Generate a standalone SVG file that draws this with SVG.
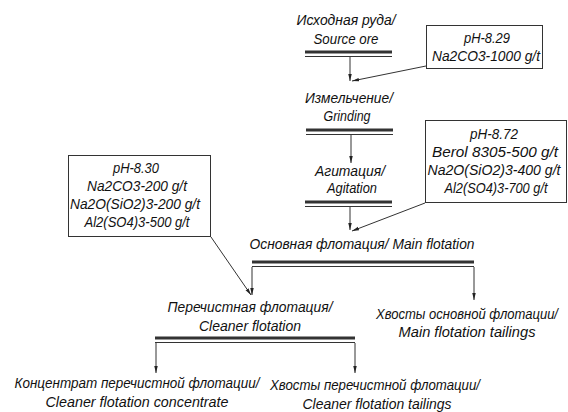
<svg xmlns="http://www.w3.org/2000/svg" width="568" height="412" viewBox="0 0 568 412">
<style>
text{font-family:"Liberation Sans",Arial,sans-serif;font-style:italic;font-size:15px;fill:#111;text-anchor:middle}
.box{fill:#fff;stroke:#333;stroke-width:1}
.bt{stroke:#333;stroke-width:3}
.bn{stroke:#333;stroke-width:1}
.c{stroke:#333;stroke-width:1;fill:none}
</style>
<defs>
<marker id="a" viewBox="0 0 10 10" refX="10" refY="5" markerWidth="7" markerHeight="7" markerUnits="userSpaceOnUse" orient="auto">
<path d="M0,2.5 L10,5 L0,7.5 Z" fill="#222"/>
</marker>
</defs>
<rect width="568" height="412" fill="#fff"/>
<g id="connectors">
<line class="c" x1="350" y1="56" x2="350" y2="81" marker-end="url(#a)"/>
<line class="c" x1="426" y1="66" x2="352" y2="81" marker-end="url(#a)"/>
<line class="c" x1="351" y1="134" x2="351" y2="163" marker-end="url(#a)"/>
<line class="c" x1="350" y1="207" x2="350" y2="230" marker-end="url(#a)"/>
<line class="c" x1="425" y1="203" x2="352" y2="231" marker-end="url(#a)"/>
<line class="c" x1="252" y1="267" x2="252" y2="295" marker-end="url(#a)"/>
<line class="c" x1="211" y1="237" x2="251" y2="295" marker-end="url(#a)"/>
<line class="c" x1="474" y1="267" x2="474" y2="300" marker-end="url(#a)"/>
<line class="c" x1="156" y1="343" x2="156" y2="373" marker-end="url(#a)"/>
<line class="c" x1="355" y1="343" x2="355" y2="373" marker-end="url(#a)"/>
</g>
<g id="source-ore">
<text x="346" y="25" textLength="99" lengthAdjust="spacingAndGlyphs">Исходная руда/</text>
<text x="346" y="44" textLength="65" lengthAdjust="spacingAndGlyphs">Source ore</text>
<line class="bt" x1="305" y1="52" x2="392" y2="52"/>
<line class="bn" x1="305" y1="56.5" x2="392" y2="56.5"/>
</g>
<g id="reagents-1">
<rect class="box" x="426.5" y="25.5" width="116" height="43"/>
<text x="487" y="43" textLength="46" lengthAdjust="spacingAndGlyphs">pH-8.29</text>
<text x="486" y="61" textLength="108" lengthAdjust="spacingAndGlyphs">Na2CO3-1000 g/t</text>
</g>
<g id="grinding">
<text x="349" y="103" textLength="88" lengthAdjust="spacingAndGlyphs">Измельчение/</text>
<text x="347" y="121" textLength="47" lengthAdjust="spacingAndGlyphs">Grinding</text>
<line class="bt" x1="306" y1="130" x2="393" y2="130"/>
<line class="bn" x1="306" y1="134.5" x2="393" y2="134.5"/>
</g>
<g id="agitation">
<text x="350" y="176" textLength="70" lengthAdjust="spacingAndGlyphs">Агитация/</text>
<text x="352" y="193" textLength="50" lengthAdjust="spacingAndGlyphs">Agitation</text>
<line class="bt" x1="305" y1="202" x2="392" y2="202"/>
<line class="bn" x1="305" y1="206.5" x2="392" y2="206.5"/>
</g>
<g id="reagents-2">
<rect class="box" x="425.5" y="120.5" width="141" height="82"/>
<text x="494" y="139" textLength="48" lengthAdjust="spacingAndGlyphs">pH-8.72</text>
<text x="495" y="157" textLength="126" lengthAdjust="spacingAndGlyphs">Berol 8305-500 g/t</text>
<text x="494" y="175" textLength="133" lengthAdjust="spacingAndGlyphs">Na2O(SiO2)3-400 g/t</text>
<text x="496" y="193" textLength="103" lengthAdjust="spacingAndGlyphs">Al2(SO4)3-700 g/t</text>
</g>
<g id="reagents-3">
<rect class="box" x="68.5" y="155.5" width="142" height="81"/>
<text x="136" y="173" textLength="46" lengthAdjust="spacingAndGlyphs">pH-8.30</text>
<text x="137" y="191" textLength="100" lengthAdjust="spacingAndGlyphs">Na2CO3-200 g/t</text>
<text x="135" y="209" textLength="130" lengthAdjust="spacingAndGlyphs">Na2O(SiO2)3-200 g/t</text>
<text x="137" y="227" textLength="105" lengthAdjust="spacingAndGlyphs">Al2(SO4)3-500 g/t</text>
</g>
<g id="main-flotation">
<text x="362" y="249" textLength="225" lengthAdjust="spacingAndGlyphs">Основная флотация/ Main flotation</text>
<line class="bt" x1="252" y1="262" x2="474" y2="262"/>
<line class="bn" x1="252" y1="266.5" x2="474" y2="266.5"/>
</g>
<g id="cleaner-flotation">
<text x="250" y="312" textLength="165" lengthAdjust="spacingAndGlyphs">Перечистная флотация/</text>
<text x="250" y="331" textLength="102" lengthAdjust="spacingAndGlyphs">Cleaner flotation</text>
<line class="bt" x1="155" y1="338" x2="355" y2="338"/>
<line class="bn" x1="155" y1="342.5" x2="355" y2="342.5"/>
</g>
<g id="main-tailings">
<text x="467" y="319" textLength="182" lengthAdjust="spacingAndGlyphs">Хвосты основной флотации/</text>
<text x="467" y="337" textLength="137" lengthAdjust="spacingAndGlyphs">Main flotation tailings</text>
</g>
<g id="cleaner-concentrate">
<text x="137" y="388" textLength="245" lengthAdjust="spacingAndGlyphs">Концентрат перечистной флотации/</text>
<text x="137" y="407" textLength="183" lengthAdjust="spacingAndGlyphs">Cleaner flotation concentrate</text>
</g>
<g id="cleaner-tailings">
<text x="375" y="390" textLength="210" lengthAdjust="spacingAndGlyphs">Хвосты перечистной флотации/</text>
<text x="377" y="409" textLength="149" lengthAdjust="spacingAndGlyphs">Cleaner flotation tailings</text>
</g>
</svg>
